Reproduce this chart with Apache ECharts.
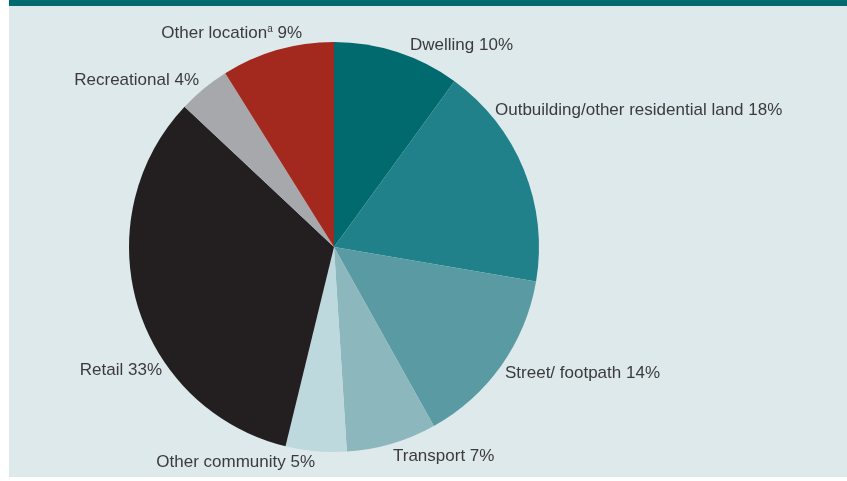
<!DOCTYPE html>
<html>
<head>
<meta charset="utf-8">
<script src="https://cdn.jsdelivr.net/npm/echarts@6/dist/echarts.min.js"></script>
<style>
    html, body { margin: 0; padding: 0; background: #ffffff; }
    #frame {
        position: absolute; left: 9px; top: 0; width: 838px; height: 477px;
        background: #dee9eb; border-top: 6px solid #006a6e; box-sizing: border-box;
    }
    #chart { position: absolute; left: -9px; top: -6px; width: 847px; height: 481px; }
</style>
</head>
<body>
<div id="frame"><div id="chart"></div></div>
<script>
const categories = ['Dwelling', 'Outbuilding/other residential land', 'Street/ footpath', 'Transport',
    'Other community', 'Retail', 'Recreational', 'Other location'];
const shares = [10.0, 17.7, 14.2, 7.1, 4.8, 33.2, 4.1, 8.9];
const shownPct = [10, 18, 14, 7, 5, 33, 4, 9];
const colors = ['#006a6e', '#20818a', '#5a9ba3', '#8cb8bd', '#bed9dd', '#231f20', '#a6a8ab', '#a3291e'];

// label anchors: [x, y, align]
const labelSpots = [
    [410, 45, 'left'], [495, 110, 'left'], [505, 373, 'left'], [393, 456, 'left'],
    [315, 462, 'right'], [162, 370, 'right'], [199, 80, 'right'], [302, 33, 'right']
];

const fontStack = '"Liberation Sans Narrow", "Arial Narrow", "Liberation Sans", sans-serif';

const chart = echarts.init(document.getElementById('chart'));
const option = {
    animation: false,
    series: [
        {
            type: 'pie',
            center: [334, 247],
            radius: [0, 205],
            startAngle: 90,
            clockwise: true,
            avoidLabelOverlap: false,
            itemStyle: { borderWidth: 0 },
            label: {
                show: true,
                position: 'outside',
                color: '#3b3b3d',
                fontFamily: fontStack,
                fontSize: 17,
                formatter: function (p) {
                    if (p.dataIndex === 7) return p.name + '{sup|a} ' + shownPct[p.dataIndex] + '%';
                    return p.name + ' ' + shownPct[p.dataIndex] + '%';
                },
                rich: {
                    sup: {
                        fontSize: 10, color: '#3b3b3d', verticalAlign: 'top', padding: [0, 0, 8, 0],
                        fontFamily: fontStack
                    }
                }
            },
            labelLine: { show: false },
            labelLayout: function (p) {
                const s = labelSpots[p.dataIndex];
                return { x: s[0], y: s[1], align: s[2], verticalAlign: 'middle' };
            },
            data: categories.map((name, i) => ({
                name: name,
                value: shares[i],
                itemStyle: { color: colors[i] }
            }))
        }
    ]
};
chart.setOption(option);
</script>
</body>
</html>
